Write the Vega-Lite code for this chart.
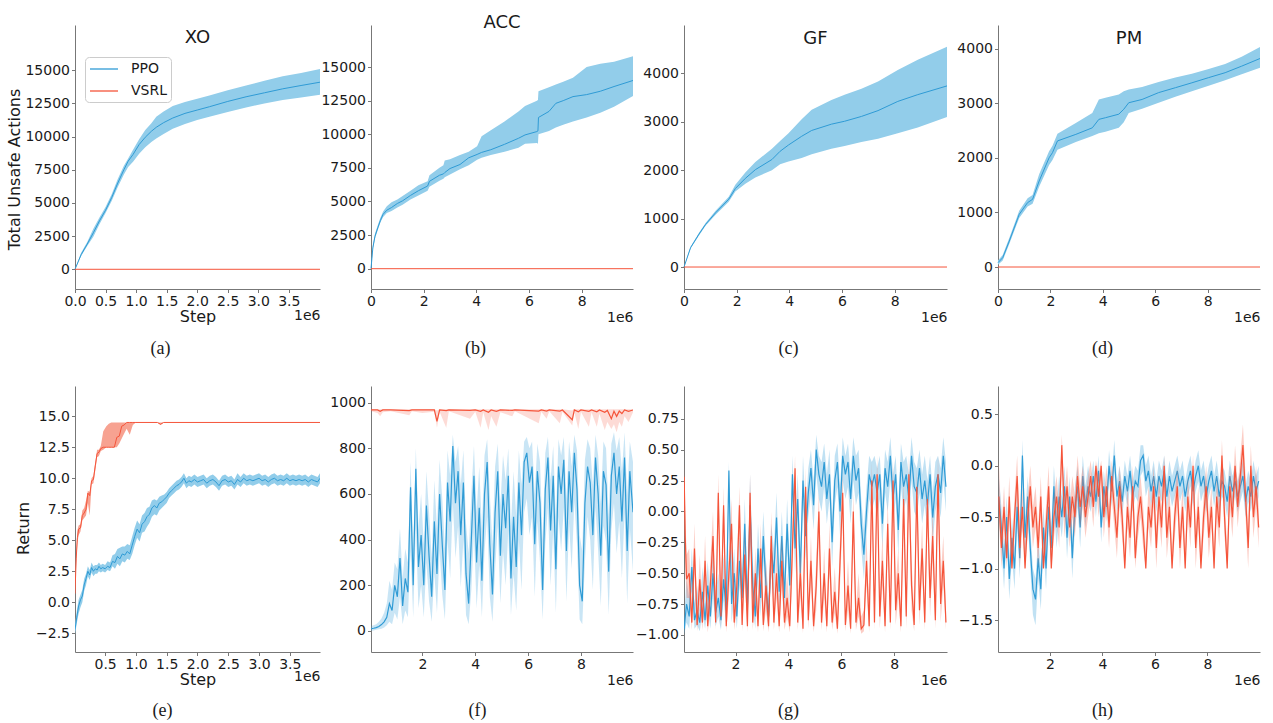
{
"$schema":"https://vega.github.io/schema/vega-lite/v6.json",
"background":"white",
"padding":{"left":6,"top":13,"right":5,"bottom":5},
"config":{"view":{"stroke":null},
"axis":{"labelFont":"DejaVu Sans","labelFontSize":14,"labelColor":"#1a1a1a","titleFont":"DejaVu Sans","titleFontSize":16,"titleFontWeight":"normal","titleColor":"#1a1a1a","domainColor":"#777777","tickColor":"#777777","tickSize":3.5,"labelPadding":2,"grid":false,"labelFlush":false,"labelOverlap":false},
"title":{"font":"DejaVu Sans","fontSize":18,"fontWeight":"normal","color":"#1a1a1a","baseline":"alphabetic","frame":"group","anchor":"middle"}},
"datasets":{
"aP":[{"x":0,"m":0,"l":0,"h":0},{"x":0.1,"m":1100,"l":1000,"h":1250},{"x":0.2,"m":1900,"l":1750,"h":2050},{"x":0.3,"m":2750,"l":2450,"h":3050},{"x":0.4,"m":3650,"l":3400,"h":3900},{"x":0.5,"m":4450,"l":4250,"h":4700},{"x":0.6,"m":5400,"l":5150,"h":5650},{"x":0.7,"m":6500,"l":6200,"h":6800},{"x":0.8,"m":7500,"l":7150,"h":7800},{"x":0.87,"m":8150,"l":7700,"h":8350},{"x":0.95,"m":8650,"l":8100,"h":9000},{"x":1.05,"m":9400,"l":8700,"h":9800},{"x":1.15,"m":9950,"l":9200,"h":10500},{"x":1.25,"m":10400,"l":9600,"h":11000},{"x":1.33,"m":10700,"l":9850,"h":11500},{"x":1.45,"m":11050,"l":10200,"h":11900},{"x":1.6,"m":11400,"l":10600,"h":12300},{"x":1.8,"m":11750,"l":10950,"h":12600},{"x":2.0,"m":12000,"l":11250,"h":12850},{"x":2.2,"m":12250,"l":11500,"h":13100},{"x":2.5,"m":12650,"l":11850,"h":13500},{"x":2.8,"m":13000,"l":12200,"h":13850},{"x":3.1,"m":13300,"l":12500,"h":14200},{"x":3.4,"m":13600,"l":12750,"h":14550},{"x":3.7,"m":13850,"l":12950,"h":14800},{"x":4.01,"m":14100,"l":13150,"h":15100}],
"aV":[{"x":0,"m":0},{"x":4.01,"m":0}],
"bP":[{"x":0,"m":0,"l":0,"h":0},{"x":0.07,"m":1550,"l":1400,"h":1700},{"x":0.15,"m":2400,"l":2250,"h":2600},{"x":0.26,"m":3050,"l":2900,"h":3250},{"x":0.36,"m":3600,"l":3450,"h":3800},{"x":0.46,"m":4050,"l":3850,"h":4250},{"x":0.6,"m":4350,"l":4150,"h":4650},{"x":0.78,"m":4550,"l":4300,"h":4950},{"x":1.0,"m":4850,"l":4550,"h":5150},{"x":1.2,"m":5050,"l":4750,"h":5400},{"x":1.5,"m":5450,"l":5150,"h":5800},{"x":1.8,"m":5800,"l":5450,"h":6200},{"x":2.15,"m":6150,"l":5800,"h":6500},{"x":2.22,"m":6500,"l":6100,"h":6950},{"x":2.6,"m":6950,"l":6550,"h":7500},{"x":2.75,"m":7050,"l":6700,"h":7700},{"x":2.8,"m":7150,"l":6800,"h":8050},{"x":3.0,"m":7450,"l":7000,"h":8150},{"x":3.38,"m":7750,"l":7400,"h":8450},{"x":3.71,"m":8250,"l":7700,"h":8700},{"x":4.03,"m":8500,"l":8100,"h":9100},{"x":4.2,"m":8650,"l":8250,"h":9850},{"x":4.55,"m":8850,"l":8450,"h":10300},{"x":5.07,"m":9250,"l":8700,"h":10950},{"x":5.6,"m":9700,"l":9000,"h":11700},{"x":5.85,"m":9950,"l":9300,"h":12100},{"x":6.3,"m":10200,"l":9350,"h":12500},{"x":6.34,"m":10250,"l":9300,"h":12550},{"x":6.36,"m":11250,"l":10000,"h":13200},{"x":6.76,"m":11700,"l":10250,"h":13500},{"x":7.02,"m":12300,"l":10500,"h":13700},{"x":7.3,"m":12500,"l":10700,"h":13900},{"x":7.67,"m":12800,"l":10950,"h":14200},{"x":8.19,"m":12950,"l":11250,"h":15000},{"x":8.71,"m":13200,"l":11600,"h":15250},{"x":9.23,"m":13550,"l":12050,"h":15400},{"x":9.95,"m":14000,"l":12850,"h":15800}],
"bV":[{"x":0,"m":0},{"x":9.95,"m":0}],
"cP":[{"x":0,"m":0,"l":0,"h":0},{"x":0.25,"m":400,"l":380,"h":420},{"x":0.57,"m":680,"l":650,"h":710},{"x":0.82,"m":880,"l":850,"h":910},{"x":1.2,"m":1120,"l":1080,"h":1160},{"x":1.7,"m":1400,"l":1350,"h":1450},{"x":1.95,"m":1620,"l":1560,"h":1700},{"x":2.33,"m":1830,"l":1720,"h":1950},{"x":2.71,"m":2010,"l":1850,"h":2170},{"x":3.34,"m":2220,"l":2000,"h":2440},{"x":3.65,"m":2390,"l":2120,"h":2600},{"x":3.97,"m":2520,"l":2180,"h":2760},{"x":4.47,"m":2700,"l":2250,"h":3050},{"x":4.85,"m":2820,"l":2330,"h":3250},{"x":5.6,"m":2950,"l":2440,"h":3450},{"x":6.1,"m":3010,"l":2500,"h":3560},{"x":6.74,"m":3110,"l":2580,"h":3680},{"x":7.37,"m":3230,"l":2650,"h":3830},{"x":8.12,"m":3420,"l":2760,"h":4070},{"x":8.88,"m":3560,"l":2880,"h":4280},{"x":9.99,"m":3740,"l":3100,"h":4550}],
"cV":[{"x":0,"m":0},{"x":9.99,"m":0}],
"dP":[{"x":0,"m":80,"l":40,"h":120},{"x":0.18,"m":170,"l":120,"h":220},{"x":0.43,"m":475,"l":420,"h":530},{"x":0.81,"m":965,"l":900,"h":1030},{"x":1.13,"m":1180,"l":1110,"h":1260},{"x":1.32,"m":1240,"l":1160,"h":1320},{"x":1.57,"m":1575,"l":1470,"h":1700},{"x":1.95,"m":2000,"l":1870,"h":2120},{"x":2.08,"m":2095,"l":1960,"h":2220},{"x":2.27,"m":2310,"l":2150,"h":2440},{"x":2.97,"m":2430,"l":2290,"h":2640},{"x":3.6,"m":2550,"l":2400,"h":2820},{"x":3.85,"m":2705,"l":2450,"h":3070},{"x":4.1,"m":2735,"l":2480,"h":3100},{"x":4.61,"m":2800,"l":2550,"h":3160},{"x":4.8,"m":2890,"l":2650,"h":3220},{"x":4.99,"m":3010,"l":2820,"h":3250},{"x":5.5,"m":3070,"l":2900,"h":3300},{"x":6.13,"m":3195,"l":3010,"h":3390},{"x":6.77,"m":3285,"l":3120,"h":3470},{"x":7.4,"m":3375,"l":3220,"h":3540},{"x":8.04,"m":3470,"l":3320,"h":3630},{"x":8.67,"m":3560,"l":3420,"h":3720},{"x":9.3,"m":3680,"l":3530,"h":3850},{"x":10.0,"m":3820,"l":3650,"h":4030}],
"dV":[{"x":0,"m":0},{"x":10,"m":0}],
"eP":[{"x":0.011,"m":-2.2,"l":-2.6,"h":-1.8},{"x":0.04,"m":-1.2,"l":-1.7,"h":-0.7},{"x":0.07,"m":-0.3,"l":-0.9,"h":0.2},{"x":0.1,"m":0.2,"l":-0.4,"h":0.6},{"x":0.13,"m":0.5,"l":0,"h":1},{"x":0.16,"m":1.4,"l":0.9,"h":1.9},{"x":0.19,"m":1.9,"l":1.4,"h":2.3},{"x":0.22,"m":2.5,"l":2.1,"h":2.9},{"x":0.25,"m":2.2,"l":1.8,"h":2.6},{"x":0.28,"m":2.8,"l":2.4,"h":3.2},{"x":0.31,"m":2.5,"l":2.1,"h":2.9},{"x":0.34,"m":2.7,"l":2.3,"h":3.0},{"x":0.37,"m":2.6,"l":2.3,"h":3.0},{"x":0.4,"m":2.9,"l":2.5,"h":3.2},{"x":0.43,"m":2.7,"l":2.4,"h":3.0},{"x":0.46,"m":2.8,"l":2.5,"h":3.1},{"x":0.5,"m":2.7,"l":2.4,"h":3.0},{"x":0.54,"m":2.9,"l":2.6,"h":3.3},{"x":0.58,"m":2.8,"l":2.5,"h":3.2},{"x":0.62,"m":3.3,"l":2.9,"h":3.8},{"x":0.66,"m":3.2,"l":2.7,"h":3.9},{"x":0.7,"m":3.7,"l":3.1,"h":4.3},{"x":0.74,"m":3.5,"l":2.9,"h":4.4},{"x":0.78,"m":3.9,"l":3.3,"h":4.5},{"x":0.82,"m":3.8,"l":3.2,"h":4.5},{"x":0.86,"m":4.1,"l":3.5,"h":4.7},{"x":0.9,"m":3.9,"l":3.4,"h":4.6},{"x":0.94,"m":4.6,"l":3.9,"h":5.3},{"x":0.98,"m":5.3,"l":4.6,"h":6.0},{"x":1.02,"m":5.9,"l":5.2,"h":6.6},{"x":1.06,"m":5.6,"l":4.9,"h":6.3},{"x":1.1,"m":6.3,"l":5.6,"h":7.0},{"x":1.14,"m":6.5,"l":5.7,"h":7.2},{"x":1.18,"m":6.9,"l":6.1,"h":7.6},{"x":1.22,"m":7.1,"l":6.4,"h":7.7},{"x":1.26,"m":7.6,"l":6.9,"h":8.2},{"x":1.3,"m":7.8,"l":7.1,"h":8.3},{"x":1.34,"m":7.6,"l":7.0,"h":8.2},{"x":1.38,"m":8.0,"l":7.4,"h":8.5},{"x":1.42,"m":8.1,"l":7.6,"h":8.6},{"x":1.46,"m":8.3,"l":7.8,"h":8.7},{"x":1.5,"m":8.5,"l":8.0,"h":8.9},{"x":1.54,"m":8.8,"l":8.4,"h":9.2},{"x":1.58,"m":9.0,"l":8.6,"h":9.4},{"x":1.62,"m":9.2,"l":8.8,"h":9.6},{"x":1.66,"m":9.4,"l":9.0,"h":9.8},{"x":1.7,"m":9.5,"l":9.1,"h":9.9},{"x":1.74,"m":9.7,"l":9.3,"h":10.1},{"x":1.78,"m":10.0,"l":9.6,"h":10.4},{"x":1.82,"m":9.6,"l":9.2,"h":10.0},{"x":1.86,"m":9.8,"l":9.4,"h":10.2},{"x":1.9,"m":9.7,"l":9.3,"h":10.1},{"x":1.95,"m":9.9,"l":9.5,"h":10.3},{"x":2.0,"m":9.7,"l":9.3,"h":10.1},{"x":2.05,"m":9.8,"l":9.4,"h":10.2},{"x":2.1,"m":9.9,"l":9.5,"h":10.3},{"x":2.15,"m":9.6,"l":9.2,"h":10.0},{"x":2.2,"m":9.8,"l":9.4,"h":10.2},{"x":2.25,"m":9.9,"l":9.5,"h":10.3},{"x":2.3,"m":9.7,"l":9.3,"h":10.1},{"x":2.35,"m":9.4,"l":9.0,"h":9.8},{"x":2.4,"m":9.8,"l":9.4,"h":10.2},{"x":2.45,"m":9.9,"l":9.5,"h":10.3},{"x":2.5,"m":9.7,"l":9.3,"h":10.1},{"x":2.55,"m":9.8,"l":9.4,"h":10.2},{"x":2.6,"m":9.5,"l":9.1,"h":9.9},{"x":2.65,"m":9.9,"l":9.5,"h":10.4},{"x":2.7,"m":9.7,"l":9.3,"h":10.1},{"x":2.75,"m":10.0,"l":9.6,"h":10.4},{"x":2.8,"m":9.8,"l":9.4,"h":10.2},{"x":2.85,"m":9.9,"l":9.5,"h":10.3},{"x":2.9,"m":9.8,"l":9.4,"h":10.2},{"x":2.95,"m":9.9,"l":9.5,"h":10.3},{"x":3.0,"m":10.0,"l":9.6,"h":10.4},{"x":3.05,"m":9.8,"l":9.4,"h":10.2},{"x":3.1,"m":9.9,"l":9.5,"h":10.3},{"x":3.15,"m":9.7,"l":9.3,"h":10.1},{"x":3.2,"m":9.9,"l":9.5,"h":10.3},{"x":3.25,"m":10.0,"l":9.6,"h":10.4},{"x":3.3,"m":9.8,"l":9.4,"h":10.2},{"x":3.35,"m":9.9,"l":9.5,"h":10.3},{"x":3.4,"m":9.8,"l":9.4,"h":10.2},{"x":3.45,"m":10.0,"l":9.6,"h":10.4},{"x":3.5,"m":9.8,"l":9.4,"h":10.2},{"x":3.55,"m":9.9,"l":9.5,"h":10.3},{"x":3.6,"m":9.8,"l":9.4,"h":10.2},{"x":3.65,"m":9.9,"l":9.5,"h":10.3},{"x":3.7,"m":9.8,"l":9.4,"h":10.2},{"x":3.75,"m":9.9,"l":9.5,"h":10.3},{"x":3.8,"m":9.7,"l":9.3,"h":10.1},{"x":3.85,"m":9.9,"l":9.5,"h":10.3},{"x":3.9,"m":9.8,"l":9.4,"h":10.2},{"x":3.95,"m":9.7,"l":9.3,"h":10.1},{"x":3.99,"m":10.0,"l":9.6,"h":10.4}],
"eV":[{"x":0.011,"m":0.7,"l":0.6,"h":0.8},{"x":0.03,"m":3.5,"l":3.0,"h":4.0},{"x":0.05,"m":5.2,"l":4.8,"h":5.8},{"x":0.07,"m":5.9,"l":5.4,"h":6.2},{"x":0.1,"m":6.0,"l":5.7,"h":6.3},{"x":0.13,"m":7.0,"l":6.6,"h":7.4},{"x":0.16,"m":7.2,"l":6.8,"h":7.6},{"x":0.19,"m":7.5,"l":7.0,"h":8.2},{"x":0.22,"m":8.8,"l":8.0,"h":9.0},{"x":0.25,"m":8.6,"l":7.0,"h":8.9},{"x":0.28,"m":9.8,"l":9.5,"h":10.0},{"x":0.31,"m":9.9,"l":9.6,"h":10.2},{"x":0.34,"m":11.0,"l":10.6,"h":11.3},{"x":0.37,"m":12.0,"l":11.7,"h":12.3},{"x":0.4,"m":12.1,"l":11.8,"h":12.3},{"x":0.43,"m":12.4,"l":12.2,"h":12.6},{"x":0.47,"m":12.5,"l":12.3,"h":13.8},{"x":0.52,"m":12.5,"l":12.5,"h":14.2},{"x":0.56,"m":12.5,"l":12.5,"h":14.4},{"x":0.6,"m":12.5,"l":12.5,"h":14.5},{"x":0.65,"m":12.5,"l":12.5,"h":14.5},{"x":0.69,"m":13.3,"l":12.5,"h":14.5},{"x":0.73,"m":13.4,"l":12.8,"h":14.5},{"x":0.77,"m":14.2,"l":13.2,"h":14.5},{"x":0.81,"m":14.3,"l":13.6,"h":14.5},{"x":0.85,"m":14.5,"l":14.0,"h":14.5},{"x":0.9,"m":14.5,"l":13.5,"h":14.5},{"x":0.95,"m":14.5,"l":14.3,"h":14.5},{"x":1.0,"m":14.5,"l":14.5,"h":14.5},{"x":1.35,"m":14.5,"l":14.5,"h":14.5},{"x":1.4,"m":14.35,"l":14.3,"h":14.5},{"x":1.45,"m":14.5,"l":14.5,"h":14.5},{"x":3.99,"m":14.5,"l":14.5,"h":14.5}],
"fP":[{"x":0.06,"m":10,"l":0,"h":22},{"x":0.15,"m":12,"l":2,"h":25},{"x":0.25,"m":15,"l":5,"h":30},{"x":0.35,"m":20,"l":8,"h":40},{"x":0.45,"m":28,"l":10,"h":55},{"x":0.55,"m":40,"l":15,"h":80},{"x":0.65,"m":60,"l":25,"h":120},{"x":0.75,"m":120,"l":40,"h":220},{"x":0.85,"m":90,"l":30,"h":180},{"x":0.95,"m":200,"l":80,"h":300},{"x":1.05,"m":150,"l":50,"h":270},{"x":1.15,"m":320,"l":150,"h":450},{"x":1.25,"m":110,"l":30,"h":230},{"x":1.35,"m":230,"l":90,"h":360},{"x":1.45,"m":170,"l":60,"h":300},{"x":1.55,"m":630,"l":350,"h":740},{"x":1.65,"m":200,"l":60,"h":360},{"x":1.75,"m":710,"l":450,"h":800},{"x":1.85,"m":280,"l":100,"h":450},{"x":1.95,"m":420,"l":200,"h":600},{"x":2.05,"m":200,"l":60,"h":380},{"x":2.15,"m":550,"l":300,"h":700},{"x":2.25,"m":330,"l":130,"h":520},{"x":2.35,"m":150,"l":40,"h":320},{"x":2.45,"m":480,"l":250,"h":660},{"x":2.55,"m":250,"l":80,"h":450},{"x":2.65,"m":600,"l":350,"h":750},{"x":2.75,"m":380,"l":160,"h":580},{"x":2.85,"m":180,"l":50,"h":360},{"x":2.95,"m":650,"l":400,"h":790},{"x":3.05,"m":480,"l":230,"h":680},{"x":3.15,"m":810,"l":560,"h":860},{"x":3.25,"m":560,"l":320,"h":740},{"x":3.35,"m":700,"l":460,"h":810},{"x":3.45,"m":420,"l":190,"h":640},{"x":3.55,"m":650,"l":400,"h":790},{"x":3.65,"m":250,"l":70,"h":470},{"x":3.75,"m":120,"l":30,"h":340},{"x":3.85,"m":400,"l":180,"h":600},{"x":3.95,"m":680,"l":430,"h":810},{"x":4.05,"m":300,"l":100,"h":520},{"x":4.15,"m":540,"l":290,"h":720},{"x":4.25,"m":220,"l":60,"h":450},{"x":4.35,"m":600,"l":350,"h":770},{"x":4.45,"m":740,"l":500,"h":840},{"x":4.55,"m":380,"l":150,"h":600},{"x":4.65,"m":160,"l":40,"h":380},{"x":4.75,"m":520,"l":270,"h":720},{"x":4.85,"m":700,"l":460,"h":820},{"x":4.95,"m":330,"l":120,"h":550},{"x":5.05,"m":600,"l":350,"h":770},{"x":5.15,"m":450,"l":200,"h":660},{"x":5.25,"m":680,"l":440,"h":800},{"x":5.35,"m":230,"l":70,"h":460},{"x":5.45,"m":500,"l":250,"h":700},{"x":5.55,"m":280,"l":90,"h":500},{"x":5.65,"m":650,"l":400,"h":790},{"x":5.75,"m":420,"l":180,"h":640},{"x":5.85,"m":740,"l":520,"h":830},{"x":5.95,"m":780,"l":580,"h":850},{"x":6.05,"m":650,"l":420,"h":800},{"x":6.15,"m":720,"l":500,"h":830},{"x":6.25,"m":380,"l":150,"h":600},{"x":6.35,"m":700,"l":480,"h":820},{"x":6.45,"m":560,"l":300,"h":740},{"x":6.55,"m":180,"l":50,"h":400},{"x":6.65,"m":620,"l":380,"h":780},{"x":6.75,"m":760,"l":540,"h":850},{"x":6.85,"m":440,"l":200,"h":660},{"x":6.95,"m":680,"l":440,"h":810},{"x":7.05,"m":270,"l":80,"h":500},{"x":7.15,"m":720,"l":500,"h":840},{"x":7.25,"m":600,"l":350,"h":770},{"x":7.35,"m":750,"l":540,"h":850},{"x":7.45,"m":350,"l":130,"h":580},{"x":7.55,"m":700,"l":470,"h":830},{"x":7.65,"m":520,"l":270,"h":720},{"x":7.75,"m":780,"l":570,"h":860},{"x":7.85,"m":620,"l":380,"h":790},{"x":7.95,"m":200,"l":50,"h":420},{"x":8.05,"m":130,"l":30,"h":350},{"x":8.15,"m":560,"l":300,"h":750},{"x":8.25,"m":720,"l":500,"h":840},{"x":8.35,"m":650,"l":400,"h":800},{"x":8.45,"m":420,"l":180,"h":640},{"x":8.55,"m":760,"l":540,"h":860},{"x":8.65,"m":600,"l":350,"h":770},{"x":8.75,"m":330,"l":110,"h":560},{"x":8.85,"m":700,"l":460,"h":830},{"x":8.95,"m":640,"l":390,"h":800},{"x":9.05,"m":260,"l":70,"h":500},{"x":9.15,"m":680,"l":440,"h":820},{"x":9.25,"m":780,"l":560,"h":870},{"x":9.35,"m":600,"l":340,"h":790},{"x":9.45,"m":720,"l":480,"h":850},{"x":9.55,"m":480,"l":230,"h":700},{"x":9.65,"m":760,"l":520,"h":870},{"x":9.75,"m":350,"l":120,"h":600},{"x":9.85,"m":700,"l":450,"h":830},{"x":9.97,"m":520,"l":260,"h":740}],
"fV":[{"x":0.06,"m":968,"l":962,"h":971},{"x":0.3,"m":968,"l":955,"h":971},{"x":0.4,"m":962,"l":940,"h":971},{"x":0.5,"m":968,"l":958,"h":971},{"x":0.8,"m":968,"l":962,"h":971},{"x":1.5,"m":965,"l":945,"h":971},{"x":1.6,"m":968,"l":962,"h":971},{"x":2.0,"m":968,"l":955,"h":971},{"x":2.45,"m":968,"l":960,"h":971},{"x":2.55,"m":918,"l":890,"h":966},{"x":2.65,"m":968,"l":960,"h":971},{"x":2.9,"m":965,"l":890,"h":971},{"x":3.0,"m":968,"l":962,"h":971},{"x":3.8,"m":966,"l":930,"h":971},{"x":4.0,"m":968,"l":960,"h":971},{"x":4.2,"m":962,"l":890,"h":971},{"x":4.3,"m":968,"l":958,"h":971},{"x":4.5,"m":958,"l":880,"h":971},{"x":4.6,"m":968,"l":940,"h":971},{"x":4.8,"m":962,"l":895,"h":971},{"x":4.95,"m":968,"l":958,"h":971},{"x":5.4,"m":966,"l":940,"h":971},{"x":5.5,"m":968,"l":962,"h":971},{"x":6.4,"m":963,"l":910,"h":971},{"x":6.5,"m":968,"l":960,"h":971},{"x":6.7,"m":963,"l":930,"h":971},{"x":6.8,"m":968,"l":962,"h":971},{"x":7.2,"m":963,"l":910,"h":971},{"x":7.3,"m":968,"l":960,"h":971},{"x":7.67,"m":925,"l":900,"h":966},{"x":7.75,"m":968,"l":958,"h":971},{"x":7.9,"m":960,"l":885,"h":971},{"x":8.0,"m":968,"l":960,"h":971},{"x":8.3,"m":962,"l":895,"h":971},{"x":8.4,"m":968,"l":958,"h":971},{"x":8.6,"m":960,"l":895,"h":971},{"x":8.7,"m":968,"l":952,"h":971},{"x":8.9,"m":958,"l":880,"h":971},{"x":9.0,"m":966,"l":915,"h":971},{"x":9.15,"m":930,"l":885,"h":971},{"x":9.25,"m":962,"l":905,"h":971},{"x":9.35,"m":940,"l":870,"h":971},{"x":9.45,"m":963,"l":915,"h":971},{"x":9.55,"m":952,"l":895,"h":971},{"x":9.65,"m":968,"l":940,"h":971},{"x":9.8,"m":962,"l":915,"h":971},{"x":9.97,"m":968,"l":958,"h":971}],
"gP":[{"x":0.06,"m":-0.95,"l":-1.0,"h":-0.85},{"x":0.15,"m":-0.75,"l":-0.9,"h":-0.55},{"x":0.25,"m":-0.85,"l":-0.95,"h":-0.7},{"x":0.35,"m":-0.45,"l":-0.65,"h":-0.3},{"x":0.45,"m":-0.88,"l":-0.95,"h":-0.75},{"x":0.55,"m":-0.8,"l":-0.92,"h":-0.6},{"x":0.65,"m":-0.9,"l":-0.97,"h":-0.8},{"x":0.75,"m":-0.65,"l":-0.82,"h":-0.45},{"x":0.85,"m":-0.88,"l":-0.95,"h":-0.75},{"x":0.95,"m":-0.6,"l":-0.78,"h":-0.4},{"x":1.05,"m":-0.85,"l":-0.95,"h":-0.7},{"x":1.15,"m":-0.5,"l":-0.7,"h":-0.3},{"x":1.25,"m":-0.82,"l":-0.93,"h":-0.65},{"x":1.35,"m":-0.7,"l":-0.85,"h":-0.5},{"x":1.45,"m":-0.88,"l":-0.96,"h":-0.75},{"x":1.55,"m":-0.55,"l":-0.72,"h":-0.35},{"x":1.65,"m":-0.8,"l":-0.92,"h":-0.62},{"x":1.75,"m":0.33,"l":0.05,"h":0.4},{"x":1.85,"m":-0.75,"l":-0.9,"h":-0.55},{"x":1.95,"m":-0.5,"l":-0.7,"h":-0.3},{"x":2.05,"m":-0.85,"l":-0.95,"h":-0.7},{"x":2.15,"m":-0.4,"l":-0.6,"h":-0.2},{"x":2.25,"m":-0.7,"l":-0.85,"h":-0.5},{"x":2.35,"m":-0.1,"l":-0.3,"h":0.1},{"x":2.45,"m":-0.8,"l":-0.92,"h":-0.6},{"x":2.55,"m":0.05,"l":-0.2,"h":0.3},{"x":2.65,"m":-0.6,"l":-0.8,"h":-0.4},{"x":2.75,"m":-0.85,"l":-0.95,"h":-0.7},{"x":2.85,"m":-0.3,"l":-0.5,"h":-0.1},{"x":2.95,"m":-0.7,"l":-0.85,"h":-0.5},{"x":3.05,"m":-0.2,"l":-0.4,"h":0.0},{"x":3.15,"m":-0.6,"l":-0.78,"h":-0.4},{"x":3.25,"m":-0.85,"l":-0.95,"h":-0.7},{"x":3.35,"m":-0.3,"l":-0.5,"h":-0.1},{"x":3.45,"m":-0.5,"l":-0.7,"h":-0.3},{"x":3.55,"m":-0.05,"l":-0.25,"h":0.15},{"x":3.65,"m":-0.65,"l":-0.82,"h":-0.45},{"x":3.75,"m":-0.2,"l":-0.4,"h":0.0},{"x":3.85,"m":-0.7,"l":-0.85,"h":-0.5},{"x":3.95,"m":-0.1,"l":-0.3,"h":0.1},{"x":4.05,"m":-0.6,"l":-0.78,"h":-0.4},{"x":4.15,"m":0.3,"l":0.1,"h":0.45},{"x":4.25,"m":-0.3,"l":-0.5,"h":-0.1},{"x":4.35,"m":0.1,"l":-0.1,"h":0.3},{"x":4.45,"m":-0.5,"l":-0.7,"h":-0.3},{"x":4.55,"m":0.25,"l":0.05,"h":0.45},{"x":4.65,"m":-0.2,"l":-0.4,"h":0.0},{"x":4.75,"m":0.15,"l":-0.05,"h":0.35},{"x":4.85,"m":0.35,"l":0.15,"h":0.5},{"x":4.95,"m":0.05,"l":-0.15,"h":0.25},{"x":5.05,"m":0.5,"l":0.3,"h":0.62},{"x":5.15,"m":0.3,"l":0.1,"h":0.45},{"x":5.25,"m":0.2,"l":0.0,"h":0.4},{"x":5.35,"m":0.4,"l":0.2,"h":0.55},{"x":5.45,"m":0.1,"l":-0.1,"h":0.3},{"x":5.55,"m":0.3,"l":0.1,"h":0.5},{"x":5.65,"m":-0.25,"l":-0.45,"h":-0.05},{"x":5.75,"m":0.25,"l":0.05,"h":0.45},{"x":5.85,"m":0.4,"l":0.2,"h":0.55},{"x":5.95,"m":0.0,"l":-0.2,"h":0.2},{"x":6.05,"m":0.45,"l":0.25,"h":0.6},{"x":6.15,"m":0.3,"l":0.1,"h":0.45},{"x":6.25,"m":0.4,"l":0.2,"h":0.55},{"x":6.35,"m":0.1,"l":-0.1,"h":0.3},{"x":6.45,"m":0.45,"l":0.25,"h":0.6},{"x":6.55,"m":0.25,"l":0.05,"h":0.45},{"x":6.65,"m":0.35,"l":0.15,"h":0.5},{"x":6.75,"m":-0.1,"l":-0.3,"h":0.1},{"x":6.85,"m":-0.35,"l":-0.55,"h":-0.15},{"x":6.95,"m":0.0,"l":-0.2,"h":0.2},{"x":7.05,"m":0.3,"l":0.1,"h":0.45},{"x":7.15,"m":0.2,"l":0.0,"h":0.4},{"x":7.25,"m":0.3,"l":0.1,"h":0.45},{"x":7.35,"m":0.15,"l":-0.05,"h":0.35},{"x":7.45,"m":0.3,"l":0.1,"h":0.45},{"x":7.55,"m":-0.1,"l":-0.3,"h":0.1},{"x":7.65,"m":0.35,"l":0.15,"h":0.5},{"x":7.75,"m":0.2,"l":0.0,"h":0.4},{"x":7.85,"m":0.45,"l":0.25,"h":0.6},{"x":7.95,"m":0.1,"l":-0.1,"h":0.3},{"x":8.05,"m":0.3,"l":0.1,"h":0.45},{"x":8.15,"m":-0.15,"l":-0.35,"h":0.05},{"x":8.25,"m":0.4,"l":0.2,"h":0.55},{"x":8.35,"m":0.2,"l":0.0,"h":0.4},{"x":8.45,"m":0.3,"l":0.1,"h":0.45},{"x":8.55,"m":0.1,"l":-0.1,"h":0.3},{"x":8.65,"m":0.45,"l":0.25,"h":0.6},{"x":8.75,"m":0.2,"l":0.0,"h":0.4},{"x":8.85,"m":0.15,"l":-0.05,"h":0.35},{"x":8.95,"m":0.35,"l":0.15,"h":0.5},{"x":9.05,"m":0.1,"l":-0.1,"h":0.3},{"x":9.15,"m":0.25,"l":0.05,"h":0.45},{"x":9.25,"m":0.05,"l":-0.15,"h":0.25},{"x":9.35,"m":0.3,"l":0.1,"h":0.45},{"x":9.45,"m":-0.05,"l":-0.25,"h":0.15},{"x":9.55,"m":0.2,"l":0.0,"h":0.4},{"x":9.65,"m":0.3,"l":0.1,"h":0.45},{"x":9.75,"m":0.15,"l":-0.05,"h":0.35},{"x":9.85,"m":0.45,"l":0.25,"h":0.6},{"x":9.95,"m":0.2,"l":0.0,"h":0.4}],
"gV":[{"x":0.06,"m":0.28,"l":0.1,"h":0.4},{"x":0.1,"m":-0.2,"l":-0.4,"h":0.05},{"x":0.15,"m":-0.55,"l":-0.7,"h":-0.35},{"x":0.25,"m":-0.5,"l":-0.7,"h":-0.3},{"x":0.35,"m":-0.9,"l":-0.96,"h":-0.75},{"x":0.45,"m":-0.3,"l":-0.5,"h":-0.1},{"x":0.55,"m":-0.92,"l":-0.97,"h":-0.8},{"x":0.65,"m":-0.55,"l":-0.75,"h":-0.35},{"x":0.75,"m":-0.9,"l":-0.96,"h":-0.78},{"x":0.85,"m":-0.4,"l":-0.6,"h":-0.2},{"x":0.95,"m":-0.93,"l":-0.98,"h":-0.82},{"x":1.05,"m":-0.6,"l":-0.8,"h":-0.4},{"x":1.15,"m":-0.2,"l":-0.4,"h":0.0},{"x":1.25,"m":-0.9,"l":-0.96,"h":-0.78},{"x":1.35,"m":0.15,"l":-0.05,"h":0.3},{"x":1.45,"m":-0.85,"l":-0.95,"h":-0.7},{"x":1.55,"m":0.05,"l":-0.15,"h":0.2},{"x":1.65,"m":-0.93,"l":-0.98,"h":-0.82},{"x":1.75,"m":-0.5,"l":-0.7,"h":-0.3},{"x":1.85,"m":-0.1,"l":-0.3,"h":0.1},{"x":1.95,"m":-0.9,"l":-0.96,"h":-0.78},{"x":2.05,"m":-0.6,"l":-0.8,"h":-0.4},{"x":2.15,"m":0.05,"l":-0.15,"h":0.2},{"x":2.25,"m":-0.92,"l":-0.97,"h":-0.8},{"x":2.35,"m":-0.35,"l":-0.55,"h":-0.15},{"x":2.45,"m":-0.93,"l":-0.98,"h":-0.82},{"x":2.55,"m":0.15,"l":-0.05,"h":0.3},{"x":2.65,"m":-0.9,"l":-0.96,"h":-0.78},{"x":2.75,"m":-0.5,"l":-0.7,"h":-0.3},{"x":2.85,"m":-0.93,"l":-0.98,"h":-0.82},{"x":2.95,"m":-0.3,"l":-0.5,"h":-0.1},{"x":3.05,"m":-0.92,"l":-0.97,"h":-0.8},{"x":3.15,"m":-0.6,"l":-0.8,"h":-0.4},{"x":3.25,"m":-0.93,"l":-0.98,"h":-0.82},{"x":3.35,"m":-0.2,"l":-0.4,"h":0.0},{"x":3.45,"m":-0.9,"l":-0.96,"h":-0.78},{"x":3.55,"m":-0.5,"l":-0.7,"h":-0.3},{"x":3.65,"m":-0.93,"l":-0.98,"h":-0.82},{"x":3.75,"m":-0.4,"l":-0.6,"h":-0.2},{"x":3.85,"m":-0.9,"l":-0.96,"h":-0.78},{"x":3.95,"m":-0.7,"l":-0.85,"h":-0.5},{"x":4.05,"m":-0.93,"l":-0.98,"h":-0.82},{"x":4.15,"m":-0.3,"l":-0.5,"h":-0.1},{"x":4.25,"m":0.35,"l":0.15,"h":0.45},{"x":4.35,"m":-0.9,"l":-0.96,"h":-0.78},{"x":4.45,"m":-0.5,"l":-0.7,"h":-0.3},{"x":4.55,"m":-0.95,"l":-0.99,"h":-0.85},{"x":4.65,"m":0.2,"l":0.0,"h":0.35},{"x":4.75,"m":-0.88,"l":-0.95,"h":-0.75},{"x":4.85,"m":-0.4,"l":-0.6,"h":-0.2},{"x":4.95,"m":-0.93,"l":-0.98,"h":-0.82},{"x":5.05,"m":-0.6,"l":-0.8,"h":-0.4},{"x":5.15,"m":0.0,"l":-0.2,"h":0.15},{"x":5.25,"m":-0.9,"l":-0.96,"h":-0.78},{"x":5.35,"m":-0.5,"l":-0.7,"h":-0.3},{"x":5.45,"m":-0.93,"l":-0.98,"h":-0.82},{"x":5.55,"m":-0.3,"l":-0.5,"h":-0.1},{"x":5.65,"m":-0.9,"l":-0.96,"h":-0.78},{"x":5.75,"m":-0.65,"l":-0.82,"h":-0.45},{"x":5.85,"m":-0.95,"l":-0.99,"h":-0.85},{"x":5.95,"m":-0.4,"l":-0.6,"h":-0.2},{"x":6.05,"m":0.15,"l":-0.05,"h":0.3},{"x":6.15,"m":-0.92,"l":-0.97,"h":-0.8},{"x":6.25,"m":-0.6,"l":-0.8,"h":-0.4},{"x":6.35,"m":-0.95,"l":-0.99,"h":-0.85},{"x":6.45,"m":0.0,"l":-0.2,"h":0.15},{"x":6.55,"m":-0.9,"l":-0.96,"h":-0.78},{"x":6.65,"m":-0.7,"l":-0.85,"h":-0.5},{"x":6.75,"m":-0.95,"l":-0.99,"h":-0.85},{"x":6.85,"m":-0.92,"l":-0.97,"h":-0.8},{"x":6.95,"m":-0.4,"l":-0.6,"h":-0.2},{"x":7.05,"m":-0.93,"l":-0.98,"h":-0.82},{"x":7.15,"m":0.25,"l":0.05,"h":0.4},{"x":7.25,"m":-0.9,"l":-0.96,"h":-0.78},{"x":7.35,"m":0.3,"l":0.1,"h":0.45},{"x":7.45,"m":-0.85,"l":-0.95,"h":-0.7},{"x":7.55,"m":-0.4,"l":-0.6,"h":-0.2},{"x":7.65,"m":-0.93,"l":-0.98,"h":-0.82},{"x":7.75,"m":-0.1,"l":-0.3,"h":0.1},{"x":7.85,"m":-0.9,"l":-0.96,"h":-0.78},{"x":7.95,"m":0.25,"l":0.05,"h":0.4},{"x":8.05,"m":-0.8,"l":-0.92,"h":-0.6},{"x":8.15,"m":-0.5,"l":-0.7,"h":-0.3},{"x":8.25,"m":-0.93,"l":-0.98,"h":-0.82},{"x":8.35,"m":0.1,"l":-0.1,"h":0.25},{"x":8.45,"m":-0.85,"l":-0.95,"h":-0.7},{"x":8.55,"m":0.3,"l":0.1,"h":0.45},{"x":8.65,"m":-0.6,"l":-0.8,"h":-0.4},{"x":8.75,"m":-0.92,"l":-0.97,"h":-0.8},{"x":8.85,"m":0.2,"l":0.0,"h":0.35},{"x":8.95,"m":-0.8,"l":-0.92,"h":-0.6},{"x":9.05,"m":-0.3,"l":-0.5,"h":-0.1},{"x":9.15,"m":-0.9,"l":-0.96,"h":-0.78},{"x":9.25,"m":0.1,"l":-0.1,"h":0.25},{"x":9.35,"m":-0.7,"l":-0.85,"h":-0.5},{"x":9.45,"m":-0.2,"l":-0.4,"h":0.0},{"x":9.55,"m":-0.88,"l":-0.95,"h":-0.75},{"x":9.65,"m":0.3,"l":0.1,"h":0.45},{"x":9.75,"m":-0.75,"l":-0.9,"h":-0.55},{"x":9.85,"m":-0.4,"l":-0.6,"h":-0.2},{"x":9.95,"m":-0.9,"l":-0.96,"h":-0.78}],
"hP":[{"x":0.05,"m":-0.3,"l":-0.5,"h":-0.1},{"x":0.15,"m":-0.6,"l":-0.8,"h":-0.4},{"x":0.25,"m":-1.0,"l":-1.2,"h":-0.8},{"x":0.35,"m":-0.5,"l":-0.7,"h":-0.3},{"x":0.45,"m":-1.1,"l":-1.3,"h":-0.9},{"x":0.55,"m":-0.7,"l":-0.9,"h":-0.5},{"x":0.65,"m":-1.0,"l":-1.2,"h":-0.8},{"x":0.75,"m":-0.4,"l":-0.6,"h":-0.2},{"x":0.85,"m":-0.9,"l":-1.1,"h":-0.7},{"x":0.95,"m":0.1,"l":-0.1,"h":0.25},{"x":1.05,"m":-0.7,"l":-0.9,"h":-0.5},{"x":1.15,"m":-0.3,"l":-0.5,"h":-0.1},{"x":1.25,"m":-0.8,"l":-1.0,"h":-0.6},{"x":1.35,"m":-1.2,"l":-1.45,"h":-1.0},{"x":1.45,"m":-1.3,"l":-1.55,"h":-1.1},{"x":1.55,"m":-0.9,"l":-1.1,"h":-0.7},{"x":1.65,"m":-1.2,"l":-1.4,"h":-1.0},{"x":1.75,"m":-0.6,"l":-0.8,"h":-0.4},{"x":1.85,"m":-1.0,"l":-1.2,"h":-0.8},{"x":1.95,"m":-0.4,"l":-0.6,"h":-0.2},{"x":2.05,"m":-0.8,"l":-1.0,"h":-0.6},{"x":2.15,"m":-0.2,"l":-0.4,"h":0.0},{"x":2.25,"m":-0.6,"l":-0.8,"h":-0.4},{"x":2.35,"m":-0.3,"l":-0.5,"h":-0.1},{"x":2.45,"m":-0.5,"l":-0.7,"h":-0.3},{"x":2.55,"m":-0.2,"l":-0.4,"h":0.0},{"x":2.65,"m":-0.7,"l":-0.9,"h":-0.5},{"x":2.75,"m":-0.3,"l":-0.5,"h":-0.1},{"x":2.85,"m":-0.9,"l":-1.1,"h":-0.7},{"x":2.95,"m":-0.4,"l":-0.6,"h":-0.2},{"x":3.05,"m":-0.2,"l":-0.4,"h":0.0},{"x":3.15,"m":-0.6,"l":-0.8,"h":-0.4},{"x":3.25,"m":-0.1,"l":-0.3,"h":0.1},{"x":3.35,"m":-0.4,"l":-0.6,"h":-0.2},{"x":3.45,"m":-0.2,"l":-0.35,"h":0.0},{"x":3.55,"m":-0.3,"l":-0.45,"h":-0.15},{"x":3.65,"m":-0.1,"l":-0.25,"h":0.05},{"x":3.75,"m":-0.35,"l":-0.5,"h":-0.2},{"x":3.85,"m":-0.05,"l":-0.2,"h":0.1},{"x":3.95,"m":-0.6,"l":-0.75,"h":-0.45},{"x":4.05,"m":-0.2,"l":-0.35,"h":-0.05},{"x":4.15,"m":-0.4,"l":-0.55,"h":-0.25},{"x":4.25,"m":0.0,"l":-0.15,"h":0.15},{"x":4.35,"m":-0.25,"l":-0.4,"h":-0.1},{"x":4.45,"m":0.1,"l":-0.05,"h":0.25},{"x":4.55,"m":-0.3,"l":-0.45,"h":-0.15},{"x":4.65,"m":-0.15,"l":-0.3,"h":0.0},{"x":4.75,"m":-0.35,"l":-0.5,"h":-0.2},{"x":4.85,"m":-0.1,"l":-0.25,"h":0.05},{"x":4.95,"m":-0.25,"l":-0.4,"h":-0.1},{"x":5.05,"m":-0.05,"l":-0.2,"h":0.1},{"x":5.15,"m":-0.3,"l":-0.45,"h":-0.15},{"x":5.25,"m":-0.15,"l":-0.3,"h":0.0},{"x":5.35,"m":-0.2,"l":-0.35,"h":-0.05},{"x":5.45,"m":0.05,"l":-0.1,"h":0.2},{"x":5.55,"m":0.1,"l":-0.05,"h":0.2},{"x":5.65,"m":-0.15,"l":-0.3,"h":0.0},{"x":5.75,"m":-0.05,"l":-0.2,"h":0.1},{"x":5.85,"m":-0.25,"l":-0.4,"h":-0.1},{"x":5.95,"m":-0.1,"l":-0.25,"h":0.05},{"x":6.05,"m":-0.3,"l":-0.45,"h":-0.15},{"x":6.15,"m":-0.1,"l":-0.25,"h":0.05},{"x":6.25,"m":-0.2,"l":-0.35,"h":-0.05},{"x":6.35,"m":-0.05,"l":-0.2,"h":0.1},{"x":6.45,"m":-0.3,"l":-0.45,"h":-0.15},{"x":6.55,"m":-0.1,"l":-0.25,"h":0.05},{"x":6.65,"m":-0.25,"l":-0.4,"h":-0.1},{"x":6.75,"m":-0.15,"l":-0.3,"h":0.0},{"x":6.85,"m":-0.05,"l":-0.2,"h":0.1},{"x":6.95,"m":-0.2,"l":-0.35,"h":-0.05},{"x":7.05,"m":-0.1,"l":-0.25,"h":0.05},{"x":7.15,"m":-0.3,"l":-0.45,"h":-0.15},{"x":7.25,"m":-0.15,"l":-0.3,"h":0.0},{"x":7.35,"m":-0.05,"l":-0.2,"h":0.1},{"x":7.45,"m":-0.25,"l":-0.4,"h":-0.1},{"x":7.55,"m":-0.1,"l":-0.25,"h":0.05},{"x":7.65,"m":0.0,"l":-0.15,"h":0.15},{"x":7.75,"m":-0.2,"l":-0.35,"h":-0.05},{"x":7.85,"m":-0.1,"l":-0.25,"h":0.05},{"x":7.95,"m":-0.3,"l":-0.45,"h":-0.15},{"x":8.05,"m":-0.15,"l":-0.3,"h":0.0},{"x":8.15,"m":-0.05,"l":-0.2,"h":0.1},{"x":8.25,"m":-0.25,"l":-0.4,"h":-0.1},{"x":8.35,"m":-0.1,"l":-0.25,"h":0.05},{"x":8.45,"m":-0.3,"l":-0.45,"h":-0.15},{"x":8.55,"m":-0.15,"l":-0.3,"h":0.0},{"x":8.65,"m":-0.2,"l":-0.35,"h":-0.05},{"x":8.75,"m":-0.35,"l":-0.5,"h":-0.2},{"x":8.85,"m":-0.1,"l":-0.25,"h":0.05},{"x":8.95,"m":-0.25,"l":-0.4,"h":-0.1},{"x":9.05,"m":-0.15,"l":-0.3,"h":0.0},{"x":9.15,"m":-0.3,"l":-0.45,"h":-0.15},{"x":9.25,"m":-0.2,"l":-0.35,"h":-0.05},{"x":9.35,"m":-0.1,"l":-0.25,"h":0.05},{"x":9.45,"m":-0.35,"l":-0.5,"h":-0.2},{"x":9.55,"m":-0.2,"l":-0.35,"h":-0.05},{"x":9.65,"m":-0.3,"l":-0.45,"h":-0.15},{"x":9.75,"m":-0.1,"l":-0.25,"h":0.05},{"x":9.85,"m":-0.25,"l":-0.4,"h":-0.1},{"x":9.95,"m":-0.15,"l":-0.3,"h":0.0}],
"hV":[{"x":0.05,"m":-0.3,"l":-0.5,"h":0.05},{"x":0.15,"m":-0.8,"l":-1.0,"h":-0.6},{"x":0.25,"m":-0.4,"l":-0.6,"h":-0.2},{"x":0.35,"m":-0.9,"l":-1.0,"h":-0.7},{"x":0.45,"m":-0.3,"l":-0.5,"h":-0.1},{"x":0.55,"m":-1.0,"l":-1.0,"h":-0.8},{"x":0.65,"m":-0.5,"l":-0.7,"h":-0.3},{"x":0.75,"m":-0.1,"l":-0.3,"h":0.1},{"x":0.85,"m":-0.8,"l":-1.0,"h":-0.6},{"x":0.95,"m":-0.4,"l":-0.6,"h":-0.2},{"x":1.05,"m":-1.0,"l":-1.0,"h":-0.8},{"x":1.15,"m":-0.5,"l":-0.7,"h":-0.3},{"x":1.25,"m":-0.2,"l":-0.4,"h":0.0},{"x":1.35,"m":-0.6,"l":-0.8,"h":-0.4},{"x":1.45,"m":-0.4,"l":-0.6,"h":-0.2},{"x":1.55,"m":-0.8,"l":-1.0,"h":-0.6},{"x":1.65,"m":-0.3,"l":-0.5,"h":-0.1},{"x":1.75,"m":-1.0,"l":-1.0,"h":-0.8},{"x":1.85,"m":-0.6,"l":-0.8,"h":-0.4},{"x":1.95,"m":-0.2,"l":-0.4,"h":0.0},{"x":2.05,"m":-1.0,"l":-1.0,"h":-0.8},{"x":2.15,"m":-0.5,"l":-0.7,"h":-0.3},{"x":2.25,"m":-0.3,"l":-0.5,"h":-0.1},{"x":2.35,"m":-0.6,"l":-0.8,"h":-0.4},{"x":2.45,"m":0.2,"l":0.0,"h":0.3},{"x":2.55,"m":-0.5,"l":-0.7,"h":-0.3},{"x":2.65,"m":-0.2,"l":-0.4,"h":0.0},{"x":2.75,"m":-0.6,"l":-0.8,"h":-0.4},{"x":2.85,"m":-0.3,"l":-0.5,"h":-0.1},{"x":2.95,"m":-0.5,"l":-0.7,"h":-0.3},{"x":3.05,"m":-0.1,"l":-0.3,"h":0.1},{"x":3.15,"m":-0.4,"l":-0.6,"h":-0.2},{"x":3.25,"m":-0.2,"l":-0.4,"h":0.0},{"x":3.35,"m":-0.5,"l":-0.7,"h":-0.3},{"x":3.45,"m":-0.3,"l":-0.5,"h":-0.1},{"x":3.55,"m":-0.1,"l":-0.3,"h":0.05},{"x":3.65,"m":-0.4,"l":-0.6,"h":-0.2},{"x":3.75,"m":0.0,"l":-0.2,"h":0.05},{"x":3.85,"m":-0.3,"l":-0.5,"h":-0.1},{"x":3.95,"m":0.0,"l":-0.2,"h":0.05},{"x":4.05,"m":-0.5,"l":-0.7,"h":-0.3},{"x":4.15,"m":-0.2,"l":-0.4,"h":0.0},{"x":4.25,"m":-0.6,"l":-0.8,"h":-0.4},{"x":4.35,"m":-0.1,"l":-0.3,"h":0.05},{"x":4.45,"m":-0.4,"l":-0.6,"h":-0.2},{"x":4.55,"m":-0.7,"l":-0.9,"h":-0.5},{"x":4.65,"m":-0.2,"l":-0.4,"h":0.0},{"x":4.75,"m":-0.5,"l":-0.7,"h":-0.3},{"x":4.85,"m":-1.0,"l":-1.0,"h":-0.8},{"x":4.95,"m":-0.4,"l":-0.6,"h":-0.2},{"x":5.05,"m":-0.7,"l":-0.9,"h":-0.5},{"x":5.15,"m":-0.2,"l":-0.4,"h":0.0},{"x":5.25,"m":-0.9,"l":-1.0,"h":-0.7},{"x":5.35,"m":-0.5,"l":-0.7,"h":-0.3},{"x":5.45,"m":-0.3,"l":-0.5,"h":-0.1},{"x":5.55,"m":-0.6,"l":-0.8,"h":-0.4},{"x":5.65,"m":-1.0,"l":-1.0,"h":-0.8},{"x":5.75,"m":-0.4,"l":-0.6,"h":-0.2},{"x":5.85,"m":-0.6,"l":-0.8,"h":-0.4},{"x":5.95,"m":-0.2,"l":-0.4,"h":0.0},{"x":6.05,"m":-0.8,"l":-1.0,"h":-0.6},{"x":6.15,"m":-0.3,"l":-0.5,"h":-0.1},{"x":6.25,"m":-0.6,"l":-0.8,"h":-0.4},{"x":6.35,"m":0.0,"l":-0.2,"h":0.1},{"x":6.45,"m":-0.7,"l":-0.9,"h":-0.5},{"x":6.55,"m":-0.4,"l":-0.6,"h":-0.2},{"x":6.65,"m":-1.0,"l":-1.0,"h":-0.8},{"x":6.75,"m":-0.5,"l":-0.7,"h":-0.3},{"x":6.85,"m":-0.2,"l":-0.4,"h":0.0},{"x":6.95,"m":-0.8,"l":-1.0,"h":-0.6},{"x":7.05,"m":-0.4,"l":-0.6,"h":-0.2},{"x":7.15,"m":-1.0,"l":-1.0,"h":-0.8},{"x":7.25,"m":-0.3,"l":-0.5,"h":-0.1},{"x":7.35,"m":-0.6,"l":-0.8,"h":-0.4},{"x":7.45,"m":0.0,"l":-0.2,"h":0.1},{"x":7.55,"m":-0.8,"l":-1.0,"h":-0.6},{"x":7.65,"m":-0.4,"l":-0.6,"h":-0.2},{"x":7.75,"m":-1.0,"l":-1.0,"h":-0.8},{"x":7.85,"m":-0.5,"l":-0.7,"h":-0.3},{"x":7.95,"m":-0.2,"l":-0.4,"h":0.0},{"x":8.05,"m":-0.7,"l":-0.9,"h":-0.5},{"x":8.15,"m":-0.4,"l":-0.6,"h":-0.2},{"x":8.25,"m":-1.0,"l":-1.0,"h":-0.8},{"x":8.35,"m":-0.3,"l":-0.5,"h":-0.1},{"x":8.45,"m":-0.6,"l":-0.8,"h":-0.4},{"x":8.55,"m":0.1,"l":-0.1,"h":0.25},{"x":8.65,"m":-0.5,"l":-0.7,"h":-0.3},{"x":8.75,"m":-1.0,"l":-1.0,"h":-0.8},{"x":8.85,"m":-0.2,"l":-0.4,"h":0.0},{"x":8.95,"m":-0.5,"l":-0.7,"h":-0.3},{"x":9.05,"m":0.0,"l":-0.2,"h":0.2},{"x":9.15,"m":-0.4,"l":-0.6,"h":-0.2},{"x":9.25,"m":-0.1,"l":-0.3,"h":0.1},{"x":9.35,"m":0.2,"l":0.0,"h":0.4},{"x":9.45,"m":-0.3,"l":-0.5,"h":-0.1},{"x":9.55,"m":-0.8,"l":-1.0,"h":-0.6},{"x":9.65,"m":0.0,"l":-0.2,"h":0.2},{"x":9.75,"m":-0.5,"l":-0.7,"h":-0.3},{"x":9.85,"m":-0.2,"l":-0.4,"h":0.0},{"x":9.95,"m":-0.6,"l":-0.8,"h":-0.4}]
},
"columns":4,
"spacing":{"row":97,"column":51},
"bounds":"flush",
"align":"each",
"concat":[
{"width":245,"height":264,"title":{"text":"XO","offset":-22.2},
"layer":[
{"data":{"name":"aP"},"mark":{"type":"area","color":"#92cdea"},"encoding":{"x":{"field":"x","type":"quantitative","scale":{"domain":[0,4.01],"nice":false,"zero":false},"axis":{"orient":"bottom","values":[0,0.5,1,1.5,2,2.5,3,3.5],"format":".1f","title":"Step","titleY":32,"titleBaseline":"alphabetic"}},"y":{"field":"l","type":"quantitative","scale":{"domain":[-1485,18410],"nice":false,"zero":false},"axis":{"orient":"left","values":[0,2500,5000,7500,10000,12500,15000],"format":"d","title":"Total Unsafe Actions","titlePadding":2,"titleY":144}},"y2":{"field":"h"}}},
{"data":{"name":"aP"},"mark":{"type":"line","strokeWidth":1},"encoding":{"x":{"field":"x","type":"quantitative","scale":{"domain":[0,4.01],"nice":false,"zero":false},"axis":{"orient":"bottom","labels":false,"ticks":false,"domain":false,"title":"1e6","titleFontSize":14,"titleX":245,"titleY":30,"titleAlign":"right","titleBaseline":"alphabetic"}},"y":{"field":"m","type":"quantitative","scale":{"domain":[-1485,18410],"nice":false,"zero":false},"axis":null},"color":{"datum":"PPO","scale":{"domain":["PPO","VSRL"],"range":["#2f9bd5","#f5543a"]},"legend":{"orient":"none","legendX":10,"legendY":32,"title":null,"strokeColor":"#cccccc","cornerRadius":4,"padding":4,"fillColor":"white","symbolType":"M-1,0H3","symbolSize":196,"symbolStrokeWidth":1.3,"labelFontSize":14,"labelFont":"DejaVu Sans","labelColor":"#1a1a1a","labelOffset":26,"rowPadding":7}}}},
{"data":{"name":"aV"},"mark":{"type":"line","strokeWidth":1},"encoding":{"x":{"field":"x","type":"quantitative","scale":{"domain":[0,4.01],"nice":false,"zero":false},"axis":{"orient":"bottom","labels":false,"ticks":false,"domain":false,"title":"(a)","titleFont":"Liberation Serif","titleFontSize":18,"titleX":85,"titleY":59.5,"titleAlign":"center","titleBaseline":"middle"}},"y":{"field":"m","type":"quantitative","scale":{"domain":[-1485,18410],"nice":false,"zero":false},"axis":null},"color":{"datum":"VSRL"}}}
],"resolve":{"axis":{"x":"independent","y":"independent"}}},
{"width":262,"height":264,"title":{"text":"ACC","offset":-6.7},
"layer":[
{"data":{"name":"bP"},"mark":{"type":"area","color":"#92cdea"},"encoding":{"x":{"field":"x","type":"quantitative","scale":{"domain":[0,9.95],"nice":false,"zero":false},"axis":{"orient":"bottom","values":[0,2,4,6,8],"format":"d","title":null}},"y":{"field":"l","type":"quantitative","scale":{"domain":[-1510,18127],"nice":false,"zero":false},"axis":{"orient":"left","values":[0,2500,5000,7500,10000,12500,15000],"format":"d","title":null}},"y2":{"field":"h"}}},
{"data":{"name":"bP"},"mark":{"type":"line","strokeWidth":1,"color":"#2f9bd5"},"encoding":{"x":{"field":"x","type":"quantitative","scale":{"domain":[0,9.95],"nice":false,"zero":false},"axis":{"orient":"bottom","labels":false,"ticks":false,"domain":false,"title":"1e6","titleFontSize":14,"titleX":262,"titleY":32,"titleAlign":"right","titleBaseline":"alphabetic"}},"y":{"field":"m","type":"quantitative","scale":{"domain":[-1510,18127],"nice":false,"zero":false},"axis":null}}},
{"data":{"name":"bV"},"mark":{"type":"line","strokeWidth":1,"color":"#f5543a"},"encoding":{"x":{"field":"x","type":"quantitative","scale":{"domain":[0,9.95],"nice":false,"zero":false},"axis":{"orient":"bottom","labels":false,"ticks":false,"domain":false,"title":"(b)","titleFont":"Liberation Serif","titleFontSize":18,"titleX":104,"titleY":59.5,"titleAlign":"center","titleBaseline":"middle"}},"y":{"field":"m","type":"quantitative","scale":{"domain":[-1510,18127],"nice":false,"zero":false},"axis":null}}}
],"resolve":{"axis":{"x":"independent","y":"independent"}}},
{"width":263,"height":264,"title":{"text":"GF","offset":-22.7},
"layer":[
{"data":{"name":"cP"},"mark":{"type":"area","color":"#92cdea"},"encoding":{"x":{"field":"x","type":"quantitative","scale":{"domain":[0,9.99],"nice":false,"zero":false},"axis":{"orient":"bottom","values":[0,2,4,6,8],"format":"d","title":null}},"y":{"field":"l","type":"quantitative","scale":{"domain":[-454,4998],"nice":false,"zero":false},"axis":{"orient":"left","values":[0,1000,2000,3000,4000],"format":"d","title":null}},"y2":{"field":"h"}}},
{"data":{"name":"cP"},"mark":{"type":"line","strokeWidth":1,"color":"#2f9bd5"},"encoding":{"x":{"field":"x","type":"quantitative","scale":{"domain":[0,9.99],"nice":false,"zero":false},"axis":{"orient":"bottom","labels":false,"ticks":false,"domain":false,"title":"1e6","titleFontSize":14,"titleX":263,"titleY":32,"titleAlign":"right","titleBaseline":"alphabetic"}},"y":{"field":"m","type":"quantitative","scale":{"domain":[-454,4998],"nice":false,"zero":false},"axis":null}}},
{"data":{"name":"cV"},"mark":{"type":"line","strokeWidth":1,"color":"#f5543a"},"encoding":{"x":{"field":"x","type":"quantitative","scale":{"domain":[0,9.99],"nice":false,"zero":false},"axis":{"orient":"bottom","labels":false,"ticks":false,"domain":false,"title":"(c)","titleFont":"Liberation Serif","titleFontSize":18,"titleX":104,"titleY":59.5,"titleAlign":"center","titleBaseline":"middle"}},"y":{"field":"m","type":"quantitative","scale":{"domain":[-454,4998],"nice":false,"zero":false},"axis":null}}}
],"resolve":{"axis":{"x":"independent","y":"independent"}}},
{"width":262,"height":264,"title":{"text":"PM","offset":-22.7},
"layer":[
{"data":{"name":"dP"},"mark":{"type":"area","color":"#92cdea"},"encoding":{"x":{"field":"x","type":"quantitative","scale":{"domain":[0,10],"nice":false,"zero":false},"axis":{"orient":"bottom","values":[0,2,4,6,8],"format":"d","title":null}},"y":{"field":"l","type":"quantitative","scale":{"domain":[-403,4434],"nice":false,"zero":false},"axis":{"orient":"left","values":[0,1000,2000,3000,4000],"format":"d","title":null}},"y2":{"field":"h"}}},
{"data":{"name":"dP"},"mark":{"type":"line","strokeWidth":1,"color":"#2f9bd5"},"encoding":{"x":{"field":"x","type":"quantitative","scale":{"domain":[0,10],"nice":false,"zero":false},"axis":{"orient":"bottom","labels":false,"ticks":false,"domain":false,"title":"1e6","titleFontSize":14,"titleX":262,"titleY":32,"titleAlign":"right","titleBaseline":"alphabetic"}},"y":{"field":"m","type":"quantitative","scale":{"domain":[-403,4434],"nice":false,"zero":false},"axis":null}}},
{"data":{"name":"dV"},"mark":{"type":"line","strokeWidth":1,"color":"#f5543a"},"encoding":{"x":{"field":"x","type":"quantitative","scale":{"domain":[0,10],"nice":false,"zero":false},"axis":{"orient":"bottom","labels":false,"ticks":false,"domain":false,"title":"(d)","titleFont":"Liberation Serif","titleFontSize":18,"titleX":104,"titleY":59.5,"titleAlign":"center","titleBaseline":"middle"}},"y":{"field":"m","type":"quantitative","scale":{"domain":[-403,4434],"nice":false,"zero":false},"axis":null}}}
],"resolve":{"axis":{"x":"independent","y":"independent"}}},
{"width":245,"height":266,
"layer":[
{"data":{"name":"eP"},"mark":{"type":"area","color":"#92cdea","clip":true},"encoding":{"x":{"field":"x","type":"quantitative","scale":{"domain":[0.011,3.99],"nice":false,"zero":false},"axis":{"orient":"bottom","values":[0.5,1,1.5,2,2.5,3,3.5],"format":".1f","title":"Step","titleY":32,"titleBaseline":"alphabetic"}},"y":{"field":"l","type":"quantitative","scale":{"domain":[-4.01,17.44],"nice":false,"zero":false},"axis":{"orient":"left","values":[-2.5,0,2.5,5,7.5,10,12.5,15],"format":".1f","title":"Return","titlePadding":4,"titleY":142}},"y2":{"field":"h"}}},
{"data":{"name":"eP"},"mark":{"type":"line","strokeWidth":1,"color":"#2f9bd5","clip":true},"encoding":{"x":{"field":"x","type":"quantitative","scale":{"domain":[0.011,3.99],"nice":false,"zero":false},"axis":{"orient":"bottom","labels":false,"ticks":false,"domain":false,"title":"1e6","titleFontSize":14,"titleX":245,"titleY":28,"titleAlign":"right","titleBaseline":"alphabetic"}},"y":{"field":"m","type":"quantitative","scale":{"domain":[-4.01,17.44],"nice":false,"zero":false},"axis":null}}},
{"data":{"name":"eV"},"mark":{"type":"area","color":"#f7a291","clip":true},"encoding":{"x":{"field":"x","type":"quantitative","scale":{"domain":[0.011,3.99],"nice":false,"zero":false},"axis":{"orient":"bottom","labels":false,"ticks":false,"domain":false,"title":"(e)","titleFont":"Liberation Serif","titleFontSize":18,"titleX":87,"titleY":58,"titleAlign":"center","titleBaseline":"middle"}},"y":{"field":"l","type":"quantitative","scale":{"domain":[-4.01,17.44],"nice":false,"zero":false},"axis":null},"y2":{"field":"h"}}},
{"data":{"name":"eV"},"mark":{"type":"line","strokeWidth":1,"color":"#f5543a","clip":true},"encoding":{"x":{"field":"x","type":"quantitative","scale":{"domain":[0.011,3.99],"nice":false,"zero":false},"axis":null},"y":{"field":"m","type":"quantitative","scale":{"domain":[-4.01,17.44],"nice":false,"zero":false},"axis":null}}}
],"resolve":{"axis":{"x":"independent","y":"independent"}}},
{"width":262,"height":266,
"layer":[
{"data":{"name":"fP"},"mark":{"type":"area","color":"#4ba9dd","opacity":0.3,"clip":true},"encoding":{"x":{"field":"x","type":"quantitative","scale":{"domain":[0.053,9.97],"nice":false,"zero":false},"axis":{"orient":"bottom","values":[2,4,6,8],"format":"d","title":null}},"y":{"field":"l","type":"quantitative","scale":{"domain":[-92,1073],"nice":false,"zero":false},"axis":{"orient":"left","values":[0,200,400,600,800,1000],"format":"d","title":null}},"y2":{"field":"h"}}},
{"data":{"name":"fP"},"mark":{"type":"line","strokeWidth":1.2,"color":"#2f9bd5","clip":true},"encoding":{"x":{"field":"x","type":"quantitative","scale":{"domain":[0.053,9.97],"nice":false,"zero":false},"axis":{"orient":"bottom","labels":false,"ticks":false,"domain":false,"title":"1e6","titleFontSize":14,"titleX":262,"titleY":32,"titleAlign":"right","titleBaseline":"alphabetic"}},"y":{"field":"m","type":"quantitative","scale":{"domain":[-92,1073],"nice":false,"zero":false},"axis":null}}},
{"data":{"name":"fV"},"mark":{"type":"area","color":"#f6705a","opacity":0.25,"clip":true},"encoding":{"x":{"field":"x","type":"quantitative","scale":{"domain":[0.053,9.97],"nice":false,"zero":false},"axis":{"orient":"bottom","labels":false,"ticks":false,"domain":false,"title":"(f)","titleFont":"Liberation Serif","titleFontSize":18,"titleX":106,"titleY":58,"titleAlign":"center","titleBaseline":"middle"}},"y":{"field":"l","type":"quantitative","scale":{"domain":[-92,1073],"nice":false,"zero":false},"axis":null},"y2":{"field":"h"}}},
{"data":{"name":"fV"},"mark":{"type":"line","strokeWidth":1.2,"color":"#f5543a","clip":true},"encoding":{"x":{"field":"x","type":"quantitative","scale":{"domain":[0.053,9.97],"nice":false,"zero":false},"axis":null},"y":{"field":"m","type":"quantitative","scale":{"domain":[-92,1073],"nice":false,"zero":false},"axis":null}}}
],"resolve":{"axis":{"x":"independent","y":"independent"}}},
{"width":263,"height":266,
"layer":[
{"data":{"name":"gP"},"mark":{"type":"area","color":"#4ba9dd","opacity":0.35,"clip":true},"encoding":{"x":{"field":"x","type":"quantitative","scale":{"domain":[0.054,9.99],"nice":false,"zero":false},"axis":{"orient":"bottom","values":[2,4,6,8],"format":"d","title":null}},"y":{"field":"l","type":"quantitative","scale":{"domain":[-1.138,1.015],"nice":false,"zero":false},"axis":{"orient":"left","values":[-1,-0.75,-0.5,-0.25,0,0.25,0.5,0.75],"format":".2f","title":null}},"y2":{"field":"h"}}},
{"data":{"name":"gP"},"mark":{"type":"line","strokeWidth":1.2,"color":"#2f9bd5","clip":true},"encoding":{"x":{"field":"x","type":"quantitative","scale":{"domain":[0.054,9.99],"nice":false,"zero":false},"axis":{"orient":"bottom","labels":false,"ticks":false,"domain":false,"title":"1e6","titleFontSize":14,"titleX":263,"titleY":32,"titleAlign":"right","titleBaseline":"alphabetic"}},"y":{"field":"m","type":"quantitative","scale":{"domain":[-1.138,1.015],"nice":false,"zero":false},"axis":null}}},
{"data":{"name":"gV"},"mark":{"type":"area","color":"#f6705a","opacity":0.35,"clip":true},"encoding":{"x":{"field":"x","type":"quantitative","scale":{"domain":[0.054,9.99],"nice":false,"zero":false},"axis":{"orient":"bottom","labels":false,"ticks":false,"domain":false,"title":"(g)","titleFont":"Liberation Serif","titleFontSize":18,"titleX":104,"titleY":58,"titleAlign":"center","titleBaseline":"middle"}},"y":{"field":"l","type":"quantitative","scale":{"domain":[-1.138,1.015],"nice":false,"zero":false},"axis":null},"y2":{"field":"h"}}},
{"data":{"name":"gV"},"mark":{"type":"line","strokeWidth":1.2,"color":"#f5543a","clip":true},"encoding":{"x":{"field":"x","type":"quantitative","scale":{"domain":[0.054,9.99],"nice":false,"zero":false},"axis":null},"y":{"field":"m","type":"quantitative","scale":{"domain":[-1.138,1.015],"nice":false,"zero":false},"axis":null}}}
],"resolve":{"axis":{"x":"independent","y":"independent"}}},
{"width":262,"height":266,
"layer":[
{"data":{"name":"hP"},"mark":{"type":"area","color":"#4ba9dd","opacity":0.35,"clip":true},"encoding":{"x":{"field":"x","type":"quantitative","scale":{"domain":[0.02,10],"nice":false,"zero":false},"axis":{"orient":"bottom","values":[2,4,6,8],"format":"d","title":null}},"y":{"field":"l","type":"quantitative","scale":{"domain":[-1.811,0.775],"nice":false,"zero":false},"axis":{"orient":"left","values":[-1.5,-1,-0.5,0,0.5],"format":".1f","title":null}},"y2":{"field":"h"}}},
{"data":{"name":"hP"},"mark":{"type":"line","strokeWidth":1.2,"color":"#2f9bd5","clip":true},"encoding":{"x":{"field":"x","type":"quantitative","scale":{"domain":[0.02,10],"nice":false,"zero":false},"axis":{"orient":"bottom","labels":false,"ticks":false,"domain":false,"title":"1e6","titleFontSize":14,"titleX":262,"titleY":32,"titleAlign":"right","titleBaseline":"alphabetic"}},"y":{"field":"m","type":"quantitative","scale":{"domain":[-1.811,0.775],"nice":false,"zero":false},"axis":null}}},
{"data":{"name":"hV"},"mark":{"type":"area","color":"#f6705a","opacity":0.35,"clip":true},"encoding":{"x":{"field":"x","type":"quantitative","scale":{"domain":[0.02,10],"nice":false,"zero":false},"axis":{"orient":"bottom","labels":false,"ticks":false,"domain":false,"title":"(h)","titleFont":"Liberation Serif","titleFontSize":18,"titleX":104,"titleY":58,"titleAlign":"center","titleBaseline":"middle"}},"y":{"field":"l","type":"quantitative","scale":{"domain":[-1.811,0.775],"nice":false,"zero":false},"axis":null},"y2":{"field":"h"}}},
{"data":{"name":"hV"},"mark":{"type":"line","strokeWidth":1.2,"color":"#f5543a","clip":true},"encoding":{"x":{"field":"x","type":"quantitative","scale":{"domain":[0.02,10],"nice":false,"zero":false},"axis":null},"y":{"field":"m","type":"quantitative","scale":{"domain":[-1.811,0.775],"nice":false,"zero":false},"axis":null}}}
],"resolve":{"axis":{"x":"independent","y":"independent"}}}
]
}
